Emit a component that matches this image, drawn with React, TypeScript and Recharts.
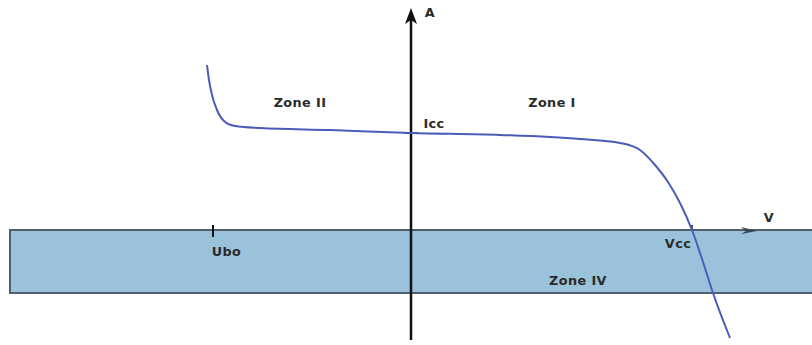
import React from "react";
import {
  ComposedChart,
  Line,
  XAxis,
  YAxis,
  ReferenceArea,
  ReferenceLine,
  ReferenceDot,
} from "recharts";

// I–V characteristic (arbitrary units)
const voltage = [-20.4, -20.2, -19.9, -19.4, -18.7, -17.6, -15.1, -8.1, 0, 8.9, 16.9, 20.9, 22.9, 24.4, 25.7, 26.9, 28.1, 29.2, 30.2, 31.9];
const current = [16.6, 15.1, 13.6, 12.1, 11.0, 10.5, 10.3, 10.1, 9.8, 9.6, 9.2, 8.8, 8.1, 6.6, 4.9, 2.8, 0.1, -3.1, -6.2, -10.7];

const icc = 9.8;
const ubo = -19.8;
const vcc = 28.1;
const zoneIVBottom = -6.2;

const labelText = ["A", "Zone II", "Zone I", "Icc", "V", "Ubo", "Vcc", "Zone IV"];
const labelX = [1.9, -11.1, 14.1, 2.3, 35.8, -18.45, 26.7, 16.7];
const labelY = [21.9, 12.9, 12.9, 10.8, 1.35, -2.05, -1.2, -4.9];

const data = voltage.map((v, i) => ({ v, a: current[i] }));

const X_DOMAIN: [number, number] = [-41.1, 40.1];
const Y_DOMAIN: [number, number] = [-11.4, 23.1];

const AxisArrowV = (props: any) => {
  const { x1, y1, x2, y2 } = props;
  const top = Math.min(y1, y2);
  const bottom = Math.max(y1, y2);
  return (
    <g>
      <line x1={x1} y1={bottom} x2={x1} y2={top + 12} stroke="#111" strokeWidth={2.5} />
      <polygon points={`${x1},${top} ${x1 - 6},${top + 16} ${x1},${top + 12} ${x1 + 6},${top + 16}`} fill="#111" />
    </g>
  );
};

const AxisArrowH = (props: any) => {
  const { x2, y2 } = props;
  return (
    <polygon points={`${x2},${y2} ${x2 - 16},${y2 - 4} ${x2 - 11},${y2} ${x2 - 16},${y2 + 3}`} fill="#3a4650" />
  );
};

const TextMark = (props: any) => {
  const { cx, cy, text } = props;
  return (
    <text
      x={cx}
      y={cy}
      textAnchor="middle"
      dominantBaseline="central"
      fontFamily="DejaVu Sans, sans-serif"
      fontWeight="bold"
      fontSize={12.8}
      letterSpacing={0.4}
      fill="#2a2a2a"
    >
      {text}
    </text>
  );
};

export default function App() {
  return (
    <div style={{ position: "absolute", left: 0, top: 0, background: "#fff" }}>
      <ComposedChart width={812} height={345} data={data} margin={{ top: 0, right: 0, bottom: 0, left: 0 }}>
        <XAxis dataKey="v" type="number" domain={X_DOMAIN} allowDataOverflow hide />
        <YAxis type="number" domain={Y_DOMAIN} allowDataOverflow hide />

        {/* Zone IV band */}
        <ReferenceArea
          x1={-40.1}
          x2={45}
          y1={zoneIVBottom}
          y2={0.1}
          ifOverflow="hidden"
          fill="#9bc2db"
          fillOpacity={1}
          stroke="#4f5f6b"
          strokeWidth={2}
        />

        {/* axes */}
        <ReferenceLine
          segment={[{ x: 0, y: -10.9 }, { x: 0, y: 22.3 }]}
          shape={AxisArrowV}
          ifOverflow="visible"
        />
        <ReferenceLine
          segment={[{ x: -40, y: 0 }, { x: 34.6, y: 0 }]}
          shape={AxisArrowH}
          ifOverflow="visible"
        />

        {/* ticks */}
        <ReferenceLine segment={[{ x: -0.7, y: icc }, { x: 0.7, y: icc }]} stroke="#111" strokeWidth={1.5} />
        <ReferenceLine segment={[{ x: ubo, y: 0.6 }, { x: ubo, y: -0.6 }]} stroke="#111" strokeWidth={2} />
        <ReferenceLine segment={[{ x: vcc, y: 0.6 }, { x: vcc, y: 0 }]} stroke="#111" strokeWidth={1.5} />

        <Line
          dataKey="a"
          type="monotone"
          stroke="#4a5cb8"
          strokeWidth={2}
          dot={false}
          activeDot={false}
          isAnimationActive={false}
        />

        {labelText.map((t, i) => (
          <ReferenceDot
            key={t}
            x={labelX[i]}
            y={labelY[i]}
            r={0}
            ifOverflow="visible"
            shape={(p: any) => <TextMark {...p} text={t} />}
          />
        ))}
      </ComposedChart>
    </div>
  );
}
